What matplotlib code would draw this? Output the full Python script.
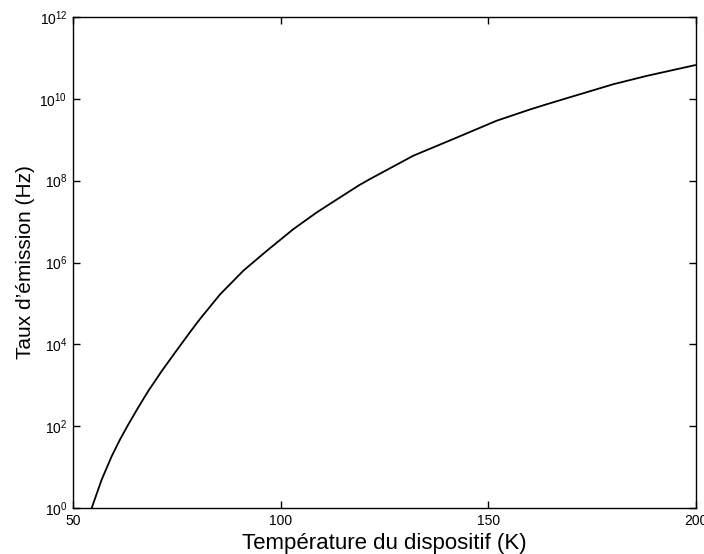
import matplotlib
matplotlib.use("Agg")
import matplotlib.pyplot as plt
from matplotlib.ticker import FixedLocator, LogFormatterSciNotation, NullLocator

plt.rcParams['font.family'] = ['Liberation Sans', 'DejaVu Sans']
plt.rcParams['mathtext.fontset'] = 'custom'
plt.rcParams['mathtext.rm'] = 'Liberation Sans'
plt.rcParams['mathtext.it'] = 'Liberation Sans'

# Data
temperature_K = [54.50, 56.91, 59.32, 61.32, 63.32, 65.72, 68.13, 71.36, 74.56,
                 78.41, 80.58, 85.40, 91.01, 96.64, 103.05, 108.68, 114.29,
                 118.94, 121.51, 131.94, 141.57, 152.02, 160.04, 164.06,
                 172.08, 180.10, 188.14, 199.77]
log10_rate = [0.00, 0.695, 1.266, 1.674, 2.042, 2.460, 2.860, 3.346, 3.797,
              4.330, 4.620, 5.220, 5.800, 6.284, 6.815, 7.224, 7.591,
              7.892, 8.040, 8.610, 9.018, 9.466, 9.740, 9.868,
              10.113, 10.357, 10.561, 10.823]
rate_Hz = [10 ** v for v in log10_rate]

x_ticks = [50, 100, 150, 200]
y_ticks = [1e0, 1e2, 1e4, 1e6, 1e8, 1e10, 1e12]

fig = plt.figure(figsize=(7.04, 5.54), dpi=100)
ax = fig.add_axes([73 / 704, 46 / 554, 623 / 704, 491 / 554])
ax.plot(temperature_K, rate_Hz, color='black', linewidth=1.3)
ax.set_yscale('log')
ax.set_xlim(50, 200)
ax.set_ylim(1e0, 1e12)
ax.xaxis.set_major_locator(FixedLocator(x_ticks))
ax.yaxis.set_major_locator(FixedLocator(y_ticks))
ax.yaxis.set_major_formatter(LogFormatterSciNotation())
ax.yaxis.set_minor_locator(NullLocator())
ax.xaxis.set_minor_locator(NullLocator())
ax.tick_params(direction='in', length=5, width=1, top=True, right=True,
               labelsize=10, pad=4)
for s in ax.spines.values():
    s.set_linewidth(1.0)
ax.set_xlabel('Température du dispositif (K)', fontsize=16, labelpad=4)
ax.set_ylabel('Taux d\u2019émission (Hz)', fontsize=15, labelpad=3)
fig.savefig('out.png', dpi=100)
